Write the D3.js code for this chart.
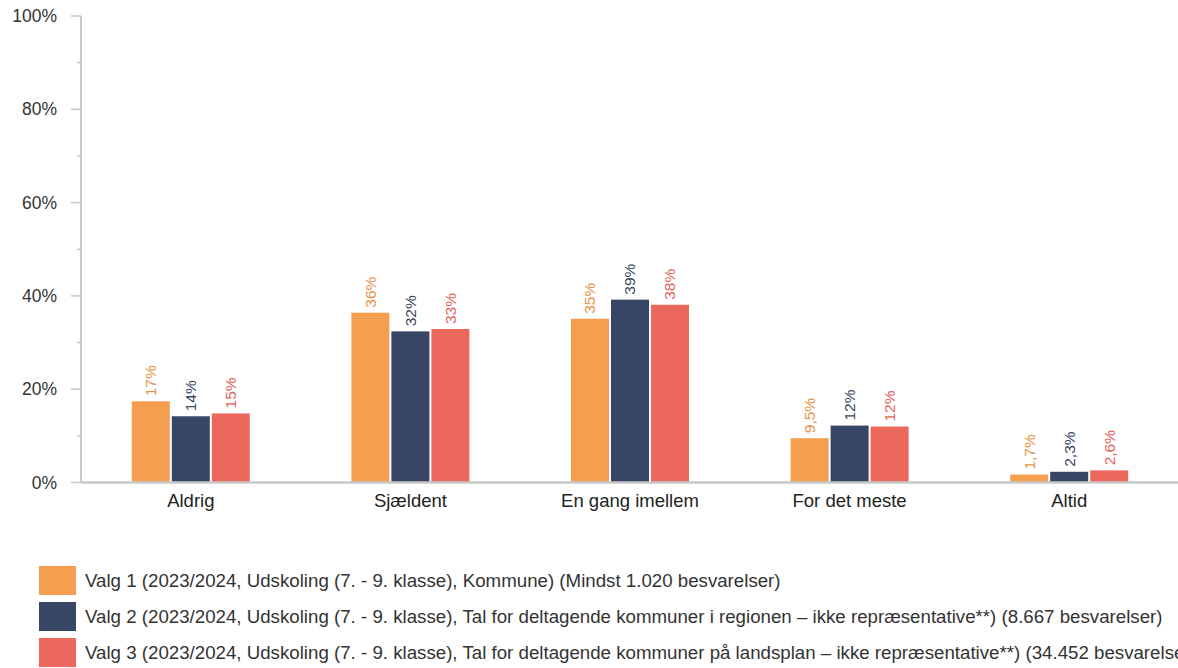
<!DOCTYPE html>
<html>
<head>
<meta charset="utf-8">
<script src="https://cdn.jsdelivr.net/npm/d3@7"></script>
<style>
  body { margin: 0; background: #fff; overflow: hidden; }
  text { font-family: "Liberation Sans", Arial, sans-serif; }
</style>
</head>
<body>
<svg width="1178" height="668"></svg>
<script>
var categories = ["Aldrig", "Sjældent", "En gang imellem", "For det meste", "Altid"];
var seriesNames = [
  "Valg 1 (2023/2024, Udskoling (7. - 9. klasse), Kommune) (Mindst 1.020 besvarelser)",
  "Valg 2 (2023/2024, Udskoling (7. - 9. klasse), Tal for deltagende kommuner i regionen – ikke repræsentative**) (8.667 besvarelser)",
  "Valg 3 (2023/2024, Udskoling (7. - 9. klasse), Tal for deltagende kommuner på landsplan – ikke repræsentative**) (34.452 besvarelser)"
];
var valg1 = [17.4, 36.4, 35.1, 9.5, 1.7];
var valg2 = [14.2, 32.4, 39.2, 12.2, 2.3];
var valg3 = [14.8, 32.9, 38.1, 12.0, 2.6];
var labels1 = ["17%", "36%", "35%", "9,5%", "1,7%"];
var labels2 = ["14%", "32%", "39%", "12%", "2,3%"];
var labels3 = ["15%", "33%", "38%", "12%", "2,6%"];
var yTicks = [0, 20, 40, 60, 80, 100];

var colors = ["#f59e4f", "#374665", "#ec685c"];
var labelColors = ["#ea9248", "#3a4664", "#e2635a"];

var svg = d3.select("svg");
var plotLeft = 81, plotRight = 1179, plotTop = 16, plotBottom = 482.5;

var series = [valg1, valg2, valg3].map(function(vals, s) {
  var labs = [labels1, labels2, labels3][s];
  return vals.map(function(v, i) { return {cat: categories[i], value: v, label: labs[i], s: s}; });
});

var x = d3.scaleBand().domain(categories).range([plotLeft, plotRight]);
var xs = d3.scaleBand().domain([0, 1, 2]).range([0, 118]).paddingInner(0.05);
var y = d3.scaleLinear().domain([0, 100]).range([plotBottom, plotTop]);

// y axis
var yAxis = svg.append("g").attr("transform", "translate(" + plotLeft + ",0)");
yAxis.append("line").attr("x1", 0).attr("x2", 0).attr("y1", plotTop).attr("y2", plotBottom)
  .attr("stroke", "#c8c8c8").attr("stroke-width", 2);
yAxis.selectAll(".minor").data(d3.range(10, 100, 20)).enter().append("line")
  .attr("x1", -4).attr("x2", 0).attr("y1", function(d) { return y(d); }).attr("y2", function(d) { return y(d); })
  .attr("stroke", "#c8c8c8").attr("stroke-width", 1.5);
yAxis.selectAll(".major").data(yTicks).enter().append("line")
  .attr("x1", -10).attr("x2", 0).attr("y1", function(d) { return y(d); }).attr("y2", function(d) { return y(d); })
  .attr("stroke", "#c8c8c8").attr("stroke-width", 1.5);
yAxis.selectAll(".tl").data(yTicks).enter().append("text")
  .attr("x", -24).attr("y", function(d) { return y(d); }).attr("dy", "0.35em")
  .attr("text-anchor", "end").attr("font-size", 17.5).attr("fill", "#333")
  .text(function(d) { return d + "%"; });

// bars
var group = svg.selectAll(".grp").data(series).enter().append("g");
group.selectAll("rect").data(function(d) { return d; }).enter().append("rect")
  .attr("x", function(d) { return x(d.cat) + (x.bandwidth() - 118) / 2 + xs(d.s); })
  .attr("width", xs.bandwidth())
  .attr("y", function(d) { return y(d.value); })
  .attr("height", function(d) { return plotBottom - y(d.value); })
  .attr("fill", function(d) { return colors[d.s]; });

group.selectAll("text").data(function(d) { return d; }).enter().append("text")
  .attr("transform", function(d) {
    var cx = x(d.cat) + (x.bandwidth() - 118) / 2 + xs(d.s) + xs.bandwidth() / 2;
    return "translate(" + cx + "," + (y(d.value) - 5) + ") rotate(-90)";
  })
  .attr("dy", "0.35em").attr("font-size", 15.5)
  .attr("fill", function(d) { return labelColors[d.s]; })
  .text(function(d) { return d.label; });

// x axis
svg.append("line").attr("x1", plotLeft).attr("x2", 1178).attr("y1", plotBottom).attr("y2", plotBottom)
  .attr("stroke", "#c8c8c8").attr("stroke-width", 2.5);
svg.selectAll(".xl").data(categories).enter().append("text")
  .attr("x", function(d) { return x(d) + x.bandwidth() / 2; })
  .attr("y", 501).attr("dy", "0.35em").attr("text-anchor", "middle")
  .attr("font-size", 18.5).attr("fill", "#222")
  .text(function(d) { return d; });

// legend
var leg = svg.selectAll(".leg").data(seriesNames).enter().append("g")
  .attr("transform", function(d, i) { return "translate(39," + (566 + i * 36) + ")"; });
leg.append("rect").attr("width", 37).attr("height", 29)
  .attr("fill", function(d, i) { return colors[i]; });
leg.append("text").attr("x", 46).attr("y", 14.5).attr("dy", "0.35em")
  .attr("font-size", 18.7).attr("fill", "#333")
  .text(function(d) { return d; });
</script>
</body>
</html>
